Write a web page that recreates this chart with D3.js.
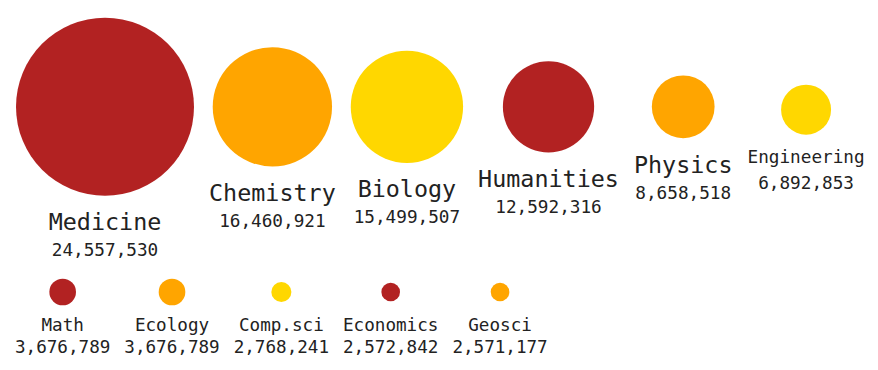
<!DOCTYPE html>
<html>
<head>
<meta charset="utf-8">
<script src="https://cdn.jsdelivr.net/npm/d3@7"></script>
<style>
  html, body { margin: 0; padding: 0; background: #fff; }
  svg { display: block; }
  text { font-family: "DejaVu Sans Mono", "Liberation Mono", monospace; fill: #222; }
</style>
</head>
<body>
<svg id="chart" width="878" height="370"></svg>
<script>
// ---- data ----
const row1Names  = ["Medicine", "Chemistry", "Biology", "Humanities", "Physics", "Engineering"];
const row1Values = [24557530, 16460921, 15499507, 12592316, 8658518, 6892853];
const row2Names  = ["Math", "Ecology", "Comp.sci", "Economics", "Geosci"];
const row2Values = [3676789, 3676789, 2768241, 2572842, 2571177];
const palette    = ["#B22222", "#FFA500", "#FFD700"];

// ---- setup ----
const svg = d3.select("#chart");
const fmt = d3.format(",");
const maxV = d3.max(row1Values.concat(row2Values));
const r = d3.scaleLinear().domain([0, maxV]).range([0, 89]);
const color = i => palette[i % palette.length];

const measurer = svg.append("text").attr("x", -1000).attr("y", -1000);
function textWidth(str, size) {
  measurer.attr("font-size", size).text(str);
  return measurer.node().getComputedTextLength();
}

// ---- row 1: large bubbles, each column centred vertically ----
const numSize1 = 17.7;
let cursor = 16;
const row1 = row1Names.map((name, i) => {
  const v = row1Values[i];
  const rad = r(v);
  const s = name.length > 10 ? numSize1 : 23.4;
  const lw = textWidth(name, s);
  const nw = textWidth(fmt(v), numSize1);
  const w = Math.max(2 * rad, lw, nw);
  const cx = cursor + w / 2;
  cursor += w + 15;
  const labelOff = 11 + s;
  const H = 2 * rad + labelOff + 26 + 5;
  const top = 139.5 - H / 2;
  const cy = top + rad;
  const lb = top + 2 * rad + labelOff;
  const nb = lb + 26;
  return { name, v, rad, s, cx, cy, lb, nb, i };
});

const g1 = svg.append("g");
g1.selectAll("circle").data(row1).join("circle")
  .attr("cx", d => d.cx).attr("cy", d => d.cy).attr("r", d => d.rad)
  .attr("fill", d => color(d.i));
g1.selectAll("text.name").data(row1).join("text").attr("class", "name")
  .attr("x", d => d.cx).attr("y", d => d.lb)
  .attr("text-anchor", "middle").attr("font-size", d => d.s)
  .text(d => d.name);
g1.selectAll("text.num").data(row1).join("text").attr("class", "num")
  .attr("x", d => d.cx).attr("y", d => d.nb)
  .attr("text-anchor", "middle").attr("font-size", numSize1)
  .text(d => fmt(d.v));

// ---- row 2: small bubbles, fixed baselines ----
const s2 = 17.6;
cursor = 15;
const row2 = row2Names.map((name, i) => {
  const v = row2Values[i];
  const rad = r(v);
  const w = Math.max(2 * rad, textWidth(name, s2), textWidth(fmt(v), s2));
  const cx = cursor + w / 2;
  cursor += w + 14;
  return { name, v, rad, cx, i: i + row1Names.length };
});

const g2 = svg.append("g");
g2.selectAll("circle").data(row2).join("circle")
  .attr("cx", d => d.cx).attr("cy", 292).attr("r", d => d.rad)
  .attr("fill", d => color(d.i));
g2.selectAll("text.name").data(row2).join("text").attr("class", "name")
  .attr("x", d => d.cx).attr("y", 331)
  .attr("text-anchor", "middle").attr("font-size", s2)
  .text(d => d.name);
g2.selectAll("text.num").data(row2).join("text").attr("class", "num")
  .attr("x", d => d.cx).attr("y", 353)
  .attr("text-anchor", "middle").attr("font-size", s2)
  .text(d => fmt(d.v));

measurer.remove();
</script>
</body>
</html>
